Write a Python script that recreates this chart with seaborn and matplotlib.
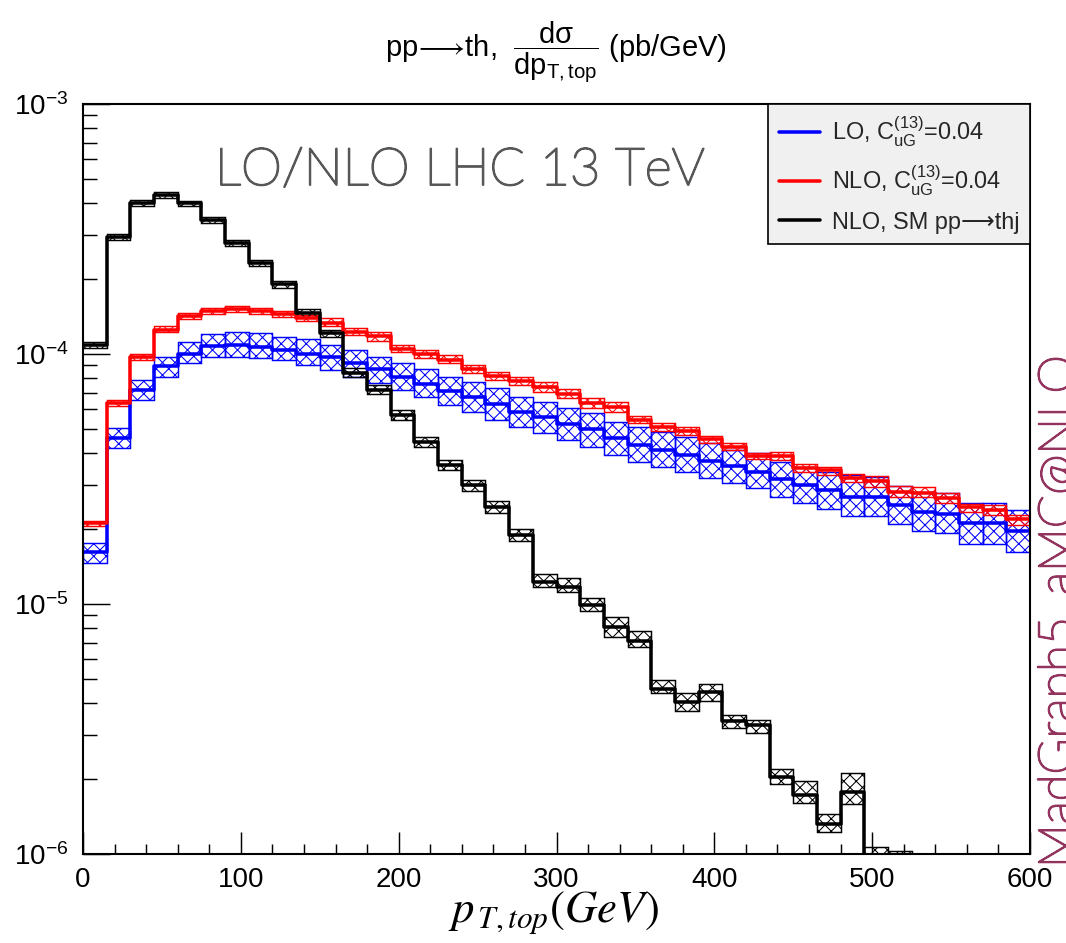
import numpy as np
import pandas as pd
import matplotlib
matplotlib.use("Agg")
import matplotlib.pyplot as plt
import matplotlib.patheffects as pe
import seaborn as sns
from matplotlib.lines import Line2D
from matplotlib.ticker import MultipleLocator, LogLocator, NullFormatter, FuncFormatter

# ---------------------------------------------------------------- data
# top-quark pT bins (GeV), 15 GeV wide
bin_edges = np.arange(0, 615, 15)

# LO, C_uG^(13) = 0.04  (central, scale-variation envelope)
lo_central = [1.62e-5, 4.61e-5, 7.18e-5, 8.95e-5, 1.00e-4, 1.08e-4, 1.09e-4, 1.07e-4, 1.04e-4, 1.00e-4,
              9.76e-5, 9.18e-5, 8.69e-5, 8.10e-5, 7.60e-5, 7.10e-5, 6.75e-5, 6.30e-5, 5.88e-5, 5.58e-5,
              5.25e-5, 5.00e-5, 4.60e-5, 4.33e-5, 4.13e-5, 3.94e-5, 3.73e-5, 3.57e-5, 3.38e-5, 3.15e-5,
              2.99e-5, 2.86e-5, 2.69e-5, 2.68e-5, 2.49e-5, 2.34e-5, 2.30e-5, 2.10e-5, 2.10e-5, 1.95e-5]
lo_up = [1.75e-5, 5.06e-5, 7.87e-5, 9.76e-5, 1.12e-4, 1.20e-4, 1.22e-4, 1.21e-4, 1.17e-4, 1.15e-4,
         1.09e-4, 1.04e-4, 9.76e-5, 9.18e-5, 8.69e-5, 8.11e-5, 7.75e-5, 7.30e-5, 6.75e-5, 6.44e-5,
         6.07e-5, 5.79e-5, 5.36e-5, 5.12e-5, 4.89e-5, 4.67e-5, 4.40e-5, 4.13e-5, 4.03e-5, 3.71e-5,
         3.54e-5, 3.38e-5, 3.28e-5, 3.23e-5, 2.96e-5, 2.81e-5, 2.79e-5, 2.53e-5, 2.53e-5, 2.38e-5]
lo_down = [1.46e-5, 4.21e-5, 6.55e-5, 8.11e-5, 9.18e-5, 9.76e-5, 9.76e-5, 9.67e-5, 9.46e-5, 9.05e-5,
           8.63e-5, 8.11e-5, 7.64e-5, 7.18e-5, 6.75e-5, 6.25e-5, 5.88e-5, 5.44e-5, 5.12e-5, 4.82e-5,
           4.53e-5, 4.26e-5, 3.94e-5, 3.71e-5, 3.54e-5, 3.38e-5, 3.18e-5, 3.04e-5, 2.90e-5, 2.69e-5,
           2.53e-5, 2.39e-5, 2.25e-5, 2.25e-5, 2.09e-5, 1.95e-5, 1.93e-5, 1.74e-5, 1.74e-5, 1.62e-5]

# NLO, C_uG^(13) = 0.04
nlo_central = [2.10e-5, 6.36e-5, 9.76e-5, 1.25e-4, 1.42e-4, 1.49e-4, 1.51e-4, 1.49e-4, 1.44e-4, 1.39e-4,
               1.33e-4, 1.23e-4, 1.18e-4, 1.05e-4, 1.00e-4, 9.50e-5, 8.70e-5, 8.20e-5, 7.80e-5, 7.40e-5,
               6.90e-5, 6.35e-5, 6.15e-5, 5.46e-5, 5.12e-5, 4.92e-5, 4.56e-5, 4.26e-5, 3.91e-5, 3.91e-5,
               3.50e-5, 3.42e-5, 3.18e-5, 3.11e-5, 2.81e-5, 2.79e-5, 2.65e-5, 2.44e-5, 2.38e-5, 2.18e-5]
nlo_up = [2.15e-5, 6.55e-5, 1.00e-4, 1.29e-4, 1.46e-4, 1.53e-4, 1.55e-4, 1.53e-4, 1.48e-4, 1.43e-4,
          1.39e-4, 1.27e-4, 1.23e-4, 1.09e-4, 1.04e-4, 9.90e-5, 9.04e-5, 8.50e-5, 8.11e-5, 7.75e-5,
          7.23e-5, 6.65e-5, 6.44e-5, 5.65e-5, 5.31e-5, 5.09e-5, 4.70e-5, 4.42e-5, 4.03e-5, 4.06e-5,
          3.62e-5, 3.54e-5, 3.30e-5, 3.25e-5, 2.96e-5, 2.95e-5, 2.79e-5, 2.51e-5, 2.49e-5, 2.27e-5]
nlo_down = [2.05e-5, 6.20e-5, 9.50e-5, 1.22e-4, 1.38e-4, 1.45e-4, 1.47e-4, 1.45e-4, 1.40e-4, 1.35e-4,
            1.29e-4, 1.19e-4, 1.13e-4, 1.02e-4, 9.60e-5, 9.18e-5, 8.42e-5, 7.87e-5, 7.52e-5, 7.07e-5,
            6.65e-5, 6.07e-5, 5.88e-5, 5.28e-5, 4.93e-5, 4.74e-5, 4.40e-5, 4.13e-5, 3.79e-5, 3.76e-5,
            3.38e-5, 3.28e-5, 3.08e-5, 2.95e-5, 2.69e-5, 2.69e-5, 2.53e-5, 2.34e-5, 2.27e-5, 2.07e-5]

# NLO, SM pp -> thj
sm_central = [1.09e-4, 2.94e-4, 4.02e-4, 4.33e-4, 4.00e-4, 3.43e-4, 2.78e-4, 2.31e-4, 1.90e-4, 1.46e-4,
              1.21e-4, 8.40e-5, 7.20e-5, 5.70e-5, 4.46e-5, 3.60e-5, 2.99e-5, 2.45e-5, 1.88e-5, 1.23e-5,
              1.17e-5, 9.90e-6, 8.10e-6, 7.10e-6, 4.57e-6, 4.07e-6, 4.45e-6, 3.39e-6, 3.28e-6, 2.04e-6,
              1.72e-6, 1.32e-6, 1.77e-6, 9.6e-7, 9.0e-7, 0.0, 0.0, 0.0, 0.0, 0.0]
sm_up = [1.12e-4, 3.02e-4, 4.12e-4, 4.45e-4, 4.10e-4, 3.52e-4, 2.86e-4, 2.38e-4, 1.96e-4, 1.51e-4,
         1.25e-4, 8.75e-5, 7.50e-5, 5.95e-5, 4.67e-5, 3.78e-5, 3.14e-5, 2.58e-5, 1.99e-5, 1.32e-5,
         1.27e-5, 1.06e-5, 8.90e-6, 7.80e-6, 4.97e-6, 4.40e-6, 4.80e-6, 3.60e-6, 3.45e-6, 2.18e-6,
         1.95e-6, 1.45e-6, 2.11e-6, 1.07e-6, 1.03e-6, 0.0, 0.0, 0.0, 0.0, 0.0]
sm_down = [1.06e-4, 2.86e-4, 3.92e-4, 4.21e-4, 3.90e-4, 3.34e-4, 2.70e-4, 2.24e-4, 1.84e-4, 1.41e-4,
           1.17e-4, 8.10e-5, 6.90e-5, 5.45e-5, 4.25e-5, 3.43e-5, 2.84e-5, 2.32e-5, 1.78e-5, 1.17e-5,
           1.12e-5, 9.40e-6, 7.40e-6, 6.75e-6, 4.40e-6, 3.74e-6, 4.10e-6, 3.20e-6, 3.04e-6, 1.90e-6,
           1.60e-6, 1.22e-6, 1.58e-6, 8.6e-7, 8.0e-7, 0.0, 0.0, 0.0, 0.0, 0.0]

series_labels = [r"LO, $\mathrm{C}_{\mathrm{uG}}^{(13)}$=0.04",
                 r"NLO, $\mathrm{C}_{\mathrm{uG}}^{(13)}$=0.04",
                 "NLO, SM pp⟶thj"]
series_colors = ["#0000ff", "#ff0000", "#000000"]

# ---------------------------------------------------------------- style
sns.set_theme(style="ticks")
plt.rcParams["font.family"] = ["Liberation Sans", "DejaVu Sans"]
plt.rcParams["mathtext.fontset"] = "custom"
plt.rcParams["mathtext.rm"] = "Liberation Sans"
plt.rcParams["mathtext.it"] = "Liberation Sans:italic"
plt.rcParams["mathtext.bf"] = "Liberation Sans:bold"
plt.rcParams["mathtext.sf"] = "Liberation Sans"
plt.rcParams["hatch.linewidth"] = 0.5

W, H, DPI = 1066, 943, 150
fig = plt.figure(figsize=(W / DPI, H / DPI), dpi=DPI, facecolor="white")
ax = fig.add_axes([83 / W, 1 - 854 / H, (1030 - 83) / W, (854 - 104) / H])
ax.set_facecolor("white")

bands = [(lo_down, lo_up), (nlo_down, nlo_up), (sm_down, sm_up)]
centrals = [lo_central, nlo_central, sm_central]

for (down, up), central, color in zip(bands, centrals, series_colors):
    down = np.asarray(down)
    up = np.asarray(up)
    keep = up > 0
    # hatched scale-uncertainty boxes, one per bin
    ax.bar(bin_edges[:-1][keep], (up - down)[keep], bottom=down[keep], width=15,
           align="edge", fill=False, edgecolor=color, hatch="xxxx", linewidth=0.7)
    # central histogram
    df = pd.DataFrame({"pt": bin_edges,
                       "xsec": np.append(central, central[-1])})
    sns.lineplot(data=df, x="pt", y="xsec", color=color, linewidth=1.7,
                 drawstyle="steps-post", estimator=None, legend=False, ax=ax)

ax.set_yscale("log", nonpositive="clip")
ax.set_xlim(0, 600)
ax.set_ylim(1e-6, 1e-3)
ax.set_xlabel("")
ax.set_ylabel("")

ax.xaxis.set_major_locator(MultipleLocator(100))
ax.xaxis.set_minor_locator(MultipleLocator(20))
ax.yaxis.set_major_locator(LogLocator(base=10))
ax.yaxis.set_minor_locator(LogLocator(base=10, subs=np.arange(2, 10)))
ax.yaxis.set_minor_formatter(NullFormatter())
ax.yaxis.set_major_formatter(FuncFormatter(lambda v, p: r"$10^{%d}$" % round(np.log10(v))))

ax.tick_params(which="both", direction="in", top=False, right=False,
               width=0.7, colors="black", labelsize=13.3, pad=6)
ax.tick_params(axis="x", which="major", length=10.5)
ax.tick_params(axis="x", which="minor", length=4.8)
ax.tick_params(axis="y", which="major", length=13)
ax.tick_params(axis="y", which="minor", length=6.7)
ax.tick_params(axis="y", pad=7)
for s in ax.spines.values():
    s.set_color("black")
    s.set_linewidth(1.0)

handles = [Line2D([], [], color=c, linewidth=1.7) for c in series_colors]
leg = ax.legend(handles, series_labels, loc="upper right", bbox_to_anchor=(1, 1),
                borderaxespad=0, frameon=True, fancybox=False, facecolor="#f0f0f0",
                edgecolor="black", framealpha=1, fontsize=11.3, handlelength=1.75,
                handletextpad=0.5, labelspacing=0.6, borderpad=0.45)
leg.get_frame().set_linewidth(0.8)

# title with the differential cross-section fraction
fig.text(556 / W, 1 - 52 / H,
         r"pp$\!\longrightarrow\!$th,  $\dfrac{\mathrm{dσ}}{\mathrm{dp}_{\mathrm{T,top}}}$ (pb/GeV)",
         ha="center", va="center", fontsize=14, color="black")

# x-axis title
fig.text(553 / W, 1 - 913 / H, r"$p_{\,T,top}(GeV)$", math_fontfamily="stix",
         ha="center", va="center", fontsize=21.5, color="black")

# process label inside the frame
label_color = "#575757"
fig.text(215 / W, 1 - 185 / H, "LO/NLO LHC 13 TeV", family="Lato", fontweight="light",
         fontsize=25, color=label_color, ha="left", va="baseline",
         path_effects=[pe.withStroke(linewidth=0.9, foreground=label_color)])

# generator tag along the right edge
tag_color = "#93345e"
fig.text(1073 / W, 1 - 868 / H, "MadGraph5_aMC@NLO", family="Lato", fontweight="light",
         fontsize=23.5, color=tag_color, rotation=90, rotation_mode="anchor",
         ha="left", va="baseline",
         path_effects=[pe.withStroke(linewidth=0.9, foreground=tag_color)])

fig.savefig("out.png", dpi=DPI, facecolor="white")
